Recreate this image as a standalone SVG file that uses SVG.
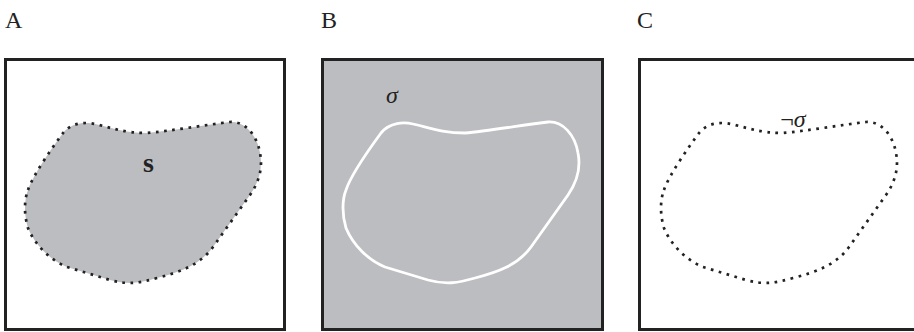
<svg xmlns="http://www.w3.org/2000/svg" width="914" height="332" viewBox="0 0 914 332">
<style>
.lbl{font-family:"Liberation Serif","DejaVu Serif",serif;font-size:24px;fill:#222}
.box{stroke:#222;stroke-width:3}
.dotted{fill:none;stroke:#222;stroke-width:2.7;stroke-dasharray:2.7 5.5}
.sym{font-family:"Liberation Serif","DejaVu Serif",serif;fill:#222}
</style>
<defs>
<path id="blob" d="M28,190 C33,175 52,148 63,133 C72,122 86,122 95,124 C112,128 125,133 147,133 C170,131 205,125 230,122 C245,121 257,135 260,153 C263,168 259,182 250,195 L213,247 C200,265 180,272 157,278 C140,283 128,285 110,280 L67,267 C50,260 35,245 28,228 C24,215 24,200 28,190 Z"/>
</defs>
<rect width="914" height="332" fill="#fff"/>
<g id="panelA">
<text class="lbl" x="5" y="28">A</text>
<rect class="box" x="5.5" y="59.5" width="279" height="270" fill="#fff"/>
<use href="#blob" fill="#bcbdc1"/>
<use href="#blob" class="dotted"/>
<text class="sym" x="148.5" y="172" font-size="28" font-weight="bold" text-anchor="middle">s</text>
</g>
<g id="panelB">
<text class="lbl" x="321" y="28">B</text>
<rect class="box" x="322.5" y="59.5" width="280" height="270" fill="#bcbdc1"/>
<use href="#blob" transform="translate(318,0)" fill="none" stroke="#fff" stroke-width="2.8"/>
<text class="sym" x="392" y="103" font-size="24" font-style="italic" text-anchor="middle">σ</text>
</g>
<g id="panelC">
<text class="lbl" x="637" y="28">C</text>
<rect class="box" x="639.5" y="59.5" width="290" height="270" fill="#fff"/>
<use href="#blob" transform="translate(636,0)" class="dotted"/>
<text class="sym" x="793" y="127" font-size="24" text-anchor="middle">¬<tspan font-style="italic">σ</tspan></text>
</g>
</svg>
